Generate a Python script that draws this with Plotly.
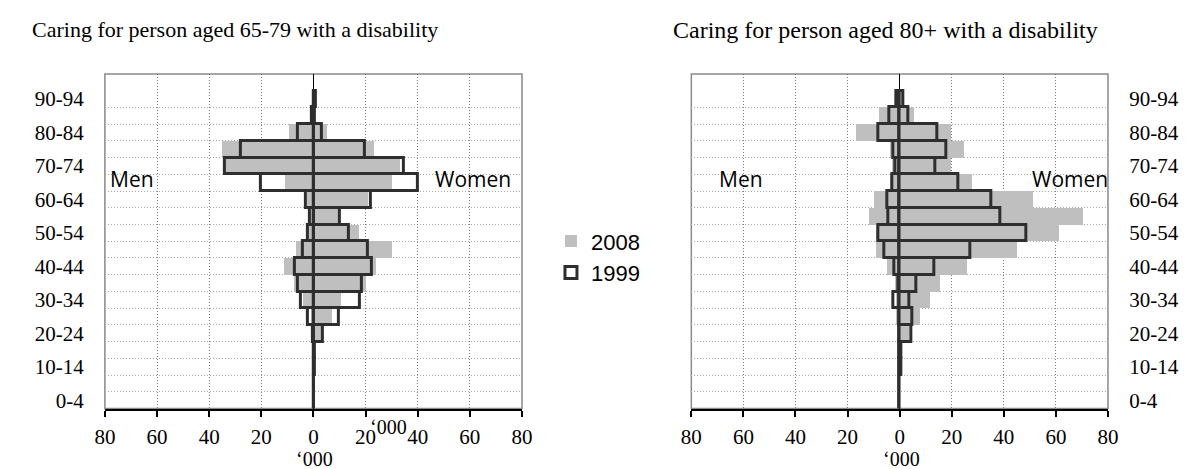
import plotly.graph_objects as go

W, H = 1189, 469

ages = ["0-4", "5-9", "10-14", "15-19", "20-24", "25-29", "30-34", "35-39", "40-44",
        "45-49", "50-54", "55-59", "60-64", "65-69", "70-74", "75-79", "80-84", "85-89", "90-94"]

# Panel 1: caring for person aged 65-79 ('000), men negative
p1_men_2008 = [0, 0, 0, 0, -0.3, -1, -4, -7.5, -11.3, -6.9, -2, -2, -2.5, -11, -34, -35, -9.4, -0.5, 0]
p1_women_2008 = [0, 0, 0.5, 0.5, 2.7, 7, 10.6, 20, 24, 30, 17.5, 9.5, 21, 30, 33, 23, 5, 0.5, 0.5]
p1_men_1999 = [0, 0, 0, 0, -0.4, -2.3, -4.8, -6, -7.3, -4, -2, -1.2, -3, -20, -34, -28, -6, -0.5, 0]
p1_women_1999 = [0, 0, 0.5, 0.5, 3.8, 9.6, 17.8, 18.5, 22.5, 20.8, 13.5, 10, 22, 40, 34.6, 19.8, 3.3, 0.5, 1]

# Panel 2: caring for person aged 80+ ('000)
p2_men_2008 = [0, 0, 0, 0, -0.5, -1.2, -1.3, -1.8, -4.6, -9, -9, -11.6, -9.7, -3.5, -3, -3.4, -16.6, -7.8, -1.3]
p2_women_2008 = [0, 0, 0.5, 0.5, 3.8, 7.9, 11.7, 15.5, 26, 45, 61.3, 70.4, 51.3, 28, 19.8, 24.9, 20, 5.8, 1.3]
p2_men_1999 = [0, 0, 0, 0, -0.3, -0.3, -2.5, -0.5, -1.9, -6, -8, -4.2, -4.8, -3, -1.6, -2.3, -8.1, -3.8, -1.3]
p2_women_1999 = [0, 0, 0.5, 0.5, 4.4, 4.8, 3.8, 6.3, 13.2, 27, 48.5, 38.8, 35.2, 22.5, 13.6, 18.1, 14.3, 3.3, 1.3]

x_ticks = [-80, -60, -40, -20, 0, 20, 40, 60, 80]
x_ticktext = [str(abs(v)) for v in x_ticks]
label_idx = list(range(0, len(ages), 2))

GRAY = "#bfbfbf"
OUTLINE = "#2e2e2e"
SERIF = "Liberation Serif"
SANS = "Open Sans"

ypos = list(range(len(ages)))


def px_x(x):
    return x / W


def px_y(y):
    return 1 - y / H


fig = go.Figure()

panels = [
    (p1_men_2008, p1_women_2008, p1_men_1999, p1_women_1999, "x", "y"),
    (p2_men_2008, p2_women_2008, p2_men_1999, p2_women_1999, "x2", "y2"),
]
for pi, (m08, w08, m99, w99, xa, ya) in enumerate(panels):
    for vals, show in ((m08, pi == 0), (w08, False)):
        fig.add_trace(go.Bar(x=vals, y=ypos, orientation="h", width=1,
                             marker=dict(color=GRAY, line=dict(width=0)),
                             name="2008", legendgroup="2008", showlegend=show,
                             xaxis=xa, yaxis=ya, hoverinfo="skip"))
for pi, (m08, w08, m99, w99, xa, ya) in enumerate(panels):
    for vals, show in ((m99, pi == 0), (w99, False)):
        fig.add_trace(go.Bar(x=vals, y=ypos, orientation="h", width=1,
                             marker=dict(color="rgba(0,0,0,0)", line=dict(color=OUTLINE, width=3)),
                             name="1999", legendgroup="1999", showlegend=show,
                             xaxis=xa, yaxis=ya, hoverinfo="skip"))

xcommon = dict(range=[-80, 80], tickmode="array", tickvals=x_ticks, ticktext=x_ticktext,
               showgrid=True, gridcolor="#7a7a7a", griddash="1px,2px", gridwidth=1,
               zeroline=True, zerolinecolor="#000000", zerolinewidth=1,
               showline=True, linecolor="#000000", linewidth=2,
               ticks="outside", ticklen=6, tickwidth=1.5, tickcolor="#000000",
               ticklabelstandoff=2,
               tickfont=dict(family=SERIF, size=21, color="#000000"),
               layer="above traces", fixedrange=True)
ycommon = dict(range=[-0.5, 19.5], tickmode="array",
               tickvals=[ypos[i] for i in label_idx], ticktext=[ages[i] for i in label_idx],
               showgrid=False, zeroline=False, showline=False,
               ticks="outside", ticklen=16, tickcolor="rgba(0,0,0,0)",
               tickfont=dict(family=SERIF, size=21, color="#000000"),
               minor=dict(tickmode="array", tickvals=[i + 0.5 for i in ypos[:-1]],
                          showgrid=True, gridcolor="#a8a8a8", griddash="1px,2px", gridwidth=1,
                          ticks=""),
               fixedrange=True)

fig.update_layout(
    width=W, height=H, autosize=False,
    margin=dict(l=0, r=0, t=0, b=0),
    paper_bgcolor="white", plot_bgcolor="white",
    barmode="overlay", bargap=0,
    xaxis=dict(domain=[px_x(87.5), px_x(512.5)], anchor="y", **xcommon),
    xaxis2=dict(domain=[px_x(685), px_x(1109.5)], anchor="y2", **xcommon),
    yaxis=dict(domain=[px_y(404), px_y(66.5)], anchor="x", side="left", **ycommon),
    yaxis2=dict(domain=[px_y(404), px_y(66.5)], anchor="x2", side="right", **ycommon),
    legend=dict(x=px_x(542), y=px_y(214), xanchor="left", yanchor="top",
                font=dict(family="Liberation Sans", size=22, color="#000000"),
                bgcolor="rgba(0,0,0,0)", borderwidth=0, traceorder="normal",
                itemwidth=30, tracegroupgap=0),
    showlegend=True,
)

# plot-area borders (grey frame)
for xr, yr in (("x domain", "y domain"), ("x2 domain", "y2 domain")):
    fig.add_shape(type="rect", xref=xr, yref=yr, x0=0, x1=1, y0=0, y1=1,
                  line=dict(color="#8a8a8a", width=1.5), fillcolor="rgba(0,0,0,0)", layer="below")

annotations = [
    dict(text="Caring for person aged 65-79 with a disability", x=px_x(11), y=px_y(22),
         xanchor="left", yanchor="middle", font=dict(family=SERIF, size=22)),
    dict(text="Caring for person aged 80+ with a disability", x=px_x(664), y=px_y(22),
         xanchor="left", yanchor="middle", font=dict(family=SERIF, size=24)),
    dict(text="Men", x=px_x(115.5), y=px_y(172), xanchor="center", yanchor="middle",
         font=dict(family=SANS, size=21)),
    dict(text="Women", x=px_x(463), y=px_y(172), xanchor="center", yanchor="middle",
         font=dict(family=SANS, size=21)),
    dict(text="Men", x=px_x(736), y=px_y(172), xanchor="center", yanchor="middle",
         font=dict(family=SANS, size=21)),
    dict(text="Women", x=px_x(1071), y=px_y(172), xanchor="center", yanchor="middle",
         font=dict(family=SANS, size=21)),
    dict(text="\u2018000", x=px_x(301), y=px_y(455), xanchor="center", yanchor="middle",
         font=dict(family=SERIF, size=20)),
    dict(text="\u2018000", x=px_x(376), y=px_y(423), xanchor="center", yanchor="middle",
         font=dict(family=SERIF, size=20)),
    dict(text="\u2018000", x=px_x(899), y=px_y(455), xanchor="center", yanchor="middle",
         font=dict(family=SERIF, size=20)),
]
for a in annotations:
    a.update(xref="paper", yref="paper", showarrow=False)
    a["font"]["color"] = "#000000"
fig.update_layout(annotations=annotations)

fig.write_html("out.html")
